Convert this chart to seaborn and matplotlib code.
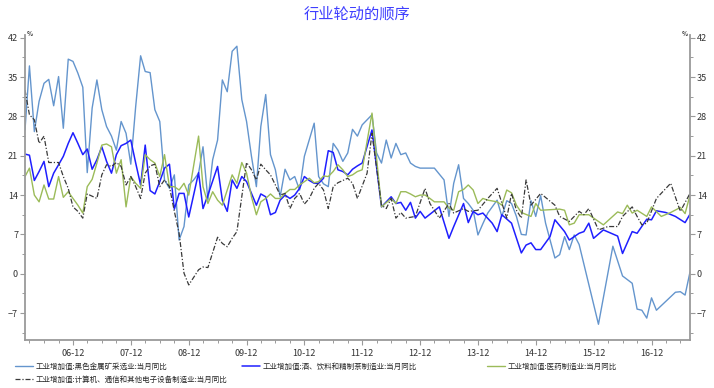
import numpy as np
import pandas as pd
import matplotlib
matplotlib.use("Agg")
import matplotlib.pyplot as plt
import matplotlib.dates as mdates
from matplotlib.ticker import MultipleLocator
import seaborn as sns

nan = np.nan

# monthly axis, Feb 2006 .. Aug 2017
months = pd.date_range("2006-02-01", periods=139, freq="MS")

# 工业增加值:黑色金属矿采选业:当月同比
ore = [25.6, 37.0, 25.3, 30.7, 33.9, 34.6, 29.9, 35.1, 25.9, 38.2,
       37.8, 35.7, 33.2, 18.0, 29.5, 34.5, 29.2, 26.2, 24.5, 22.0,
       27.1, 25.0, 19.5, 29.8, 38.8, 36.0, 35.8, 29.2, 27.1, 16.7,
       15.2, 17.6, 6.0, 8.4, 15.8, 16.7, 17.9, 22.6, 13.1, 20.3,
       23.8, 34.5, 32.4, 39.6, 40.5, 31.0, 27.1, 20.9, 15.5, 26.2,
       31.9, 21.2, 18.5, 13.7, 18.6, 16.7, 17.3, 14.9, 20.9, nan,
       26.8, 17.3, 16.0, 15.5, 23.2, 22.0, 20.0, 21.5, 25.7, 24.5,
       26.5, nan, 28.3, 21.5, 19.7, 23.8, 20.6, 23.2, 21.2, 21.5,
       19.7, 19.1, 18.8, nan, nan, 18.8, nan, 16.7, 10.2, 16.1,
       19.4, 13.4, 12.5, 11.3, 6.9, 8.9, 10.8, nan, 13.1, 10.2,
       13.0, 12.5, 10.2, 7.0, 6.9, 13.0, 10.2, 13.9, 9.0, nan,
       2.8, 3.4, 6.6, 4.3, 6.9, 5.2, nan, nan, nan, -9.0,
       nan, nan, 4.9, nan, -0.4, nan, -1.7, -6.3, -6.5, -7.9,
       -4.3, -6.5, nan, nan, nan, -3.3, -3.2, -3.8, 0.3]

# 工业增加值:酒、饮料和精制茶制造业:当月同比
beverage = [21.3, 21.1, 16.6, 18.2, 20.0, 15.5, 17.9, 19.4, 20.9, 23.2,
            25.1, 23.2, 21.2, 22.2, 18.6, 20.3, 22.6, 20.0, 17.9, 21.2,
            22.8, 23.2, 23.8, 19.7, 15.8, 22.9, 14.8, 14.2, 16.4, 18.8,
            19.5, 11.5, 14.3, 14.3, 10.1, nan, 18.0, 11.6, 14.0, nan,
            19.1, 13.1, 11.1, 16.7, 15.2, 17.3, 16.4, 14.3, 12.2, 14.2,
            13.7, 10.5, 10.9, 13.1, 14.0, 13.4, 14.0, 15.2, 17.3, 16.6,
            16.1, 16.1, 17.0, 21.9, 21.6, 18.5, 18.2, 17.6, 18.6, 19.2,
            19.7, nan, 25.6, nan, 11.9, nan, 13.7, 12.5, 12.7, 11.3,
            12.7, 9.9, 11.1, 9.9, nan, nan, 11.9, nan, 6.3, 8.4,
            nan, 12.5, 9.1, 11.1, 10.5, 10.8, nan, 9.0, 7.5, 10.5,
            nan, 9.0, nan, 3.7, 5.1, 5.5, 4.3, 4.3, nan, 6.6,
            9.6, nan, 7.5, 6.0, nan, 7.2, 7.5, 9.0, 6.3, nan,
            7.8, nan, nan, 6.7, 3.6, nan, 7.5, 7.2, nan, 9.7,
            9.6, 11.2, nan, 10.9, nan, 10.2, nan, 9.1, 10.6]

# 工业增加值:医药制造业:当月同比
pharma = [17.3, 18.8, 14.0, 12.8, 15.8, 13.3, 13.3, 17.3, 13.6, 14.6,
          13.4, 12.2, 10.8, 15.5, 16.8, 19.7, 22.9, 23.1, 22.6, 17.9,
          20.3, 11.9, 17.3, 16.1, 15.2, 21.2, 20.3, 19.7, 17.3, 21.2,
          15.5, 15.5, 14.9, 16.1, 14.0, nan, 24.5, 15.5, 12.5, 14.6,
          13.1, 12.2, 14.9, 17.6, 16.1, 19.8, 17.9, 13.7, 10.5, 12.8,
          13.4, 14.2, 13.4, 13.4, 14.3, 15.0, 15.0, 15.8, nan, 17.0,
          16.2, 16.4, 17.4, 17.3, 18.2, 19.4, 18.5, 17.3, 17.6, 18.2,
          18.5, nan, 28.6, nan, 11.9, nan, 13.4, 12.5, 14.6, 14.6,
          14.2, 13.7, 14.0, 14.0, 13.4, 12.8, nan, 12.8, 11.7, 11.3,
          14.6, 15.0, 15.8, 14.9, 12.5, 13.4, 13.1, nan, 12.8, 12.2,
          14.9, 14.4, 12.2, 10.9, nan, 10.2, 12.5, 11.3, nan, nan,
          nan, 11.5, 11.3, 8.7, 9.0, 10.5, nan, 10.5, nan, nan,
          8.7, nan, nan, 11.0, 10.7, 12.2, 10.8, 11.3, nan, 10.2,
          11.9, nan, 10.2, nan, 10.9, nan, 11.8, 10.7, 14.0]

# 工业增加值:计算机、通信和其他电子设备制造业:当月同比
electronics = [32.7, 28.3, 27.4, 23.2, 24.5, 19.8, 19.8, 19.8, 17.3, 15.2,
               11.9, 11.1, 9.9, 14.2, 13.8, 13.4, 17.6, 19.4, 19.1, 19.8,
               19.1, 15.8, 17.3, 15.5, 13.4, 17.9, 19.2, 19.5, 15.5, 16.7,
               15.5, 11.1, 7.2, 0.1, -2.0, nan, 0.7, 1.2, 1.1, nan,
               6.5, 5.4, 4.8, 6.3, 7.5, nan, 19.8, 18.5, 16.7, 19.5,
               18.5, 17.6, 15.8, 14.0, 14.3, 11.6, 13.4, 14.3, 12.4, 13.4,
               15.2, 16.1, 14.9, 11.6, 15.5, 16.2, nan, 17.0, 16.1, 13.4,
               nan, 17.9, 25.0, nan, 12.2, 11.6, 13.4, 9.9, 10.9, 9.9,
               nan, 10.2, nan, 15.2, 12.5, nan, 9.9, nan, 12.5, 10.8,
               nan, 11.6, 11.1, nan, 11.3, nan, 13.4, nan, 15.2, nan,
               9.9, 14.3, 11.3, 9.9, 16.7, 12.2, nan, 14.3, nan, nan,
               12.2, 10.2, nan, 9.3, nan, 11.1, 10.5, 11.6, nan, 7.8,
               nan, 8.4, nan, 8.4, 10.2, nan, 11.9, 10.2, 8.7, 9.0,
               nan, 13.4, nan, nan, 16.1, nan, 11.1, nan, 14.3]

labels = ["工业增加值:黑色金属矿采选业:当月同比",
          "工业增加值:酒、饮料和精制茶制造业:当月同比",
          "工业增加值:医药制造业:当月同比",
          "工业增加值:计算机、通信和其他电子设备制造业:当月同比"]
colors = ["#6495CD", "#1F1FFF", "#9BBB59", "#3A3A3A"]
styles = ["-", "-", "-", (0, (4, 1.5, 1, 1.5))]
widths = [1.0, 1.1, 1.0, 0.9]

df = pd.DataFrame({"date": months, "ore": ore, "beverage": beverage,
                   "pharma": pharma, "electronics": electronics})

sns.set_style("ticks")
plt.rcParams["font.family"] = ["Noto Sans CJK SC", "DejaVu Sans"]

fig = plt.figure(figsize=(7.14, 3.88), dpi=100)
ax = fig.add_axes([25 / 714, 48 / 388, 665 / 714, 305 / 388])

cols = ["ore", "beverage", "pharma", "electronics"]
for col, lab, c, ls, lw in zip(cols, labels, colors, styles, widths):
    part = df[["date", col]].dropna()
    sns.lineplot(data=part, x="date", y=col, ax=ax, color=c,
                 linestyle=ls, linewidth=lw, label=lab)
if ax.get_legend() is not None:
    ax.get_legend().remove()

ax.set_xlim(months[0], months[-1])
ax.set_ylim(-11.8, 42.5)
ax.set_xlabel("")
ax.set_ylabel("")

ax.yaxis.set_major_locator(MultipleLocator(7))
ax.yaxis.set_minor_locator(MultipleLocator(3.5))
ax.set_yticks([-7, 0, 7, 14, 21, 28, 35, 42])
ax.xaxis.set_major_locator(mdates.MonthLocator(bymonth=12))
ax.xaxis.set_minor_locator(mdates.MonthLocator(bymonth=[3, 6, 9, 12]))
ax.xaxis.set_major_formatter(mdates.DateFormatter("%y-%m"))

spine_col = "#9a9a9a"
ax.spines["top"].set_visible(False)
for side in ["left", "right", "bottom"]:
    ax.spines[side].set_visible(True)
    ax.spines[side].set_color(spine_col)
    ax.spines[side].set_linewidth(1.3)

ax.tick_params(axis="y", which="both", left=True, right=True,
               labelleft=True, labelright=True, color=spine_col)
ax.tick_params(axis="both", which="major", length=3.5, width=0.8,
               labelsize=6.5, pad=1.5, labelcolor="#333333", color=spine_col)
ax.tick_params(axis="both", which="minor", length=2, width=0.7,
               color=spine_col)
ax.tick_params(axis="x", which="major", pad=3)

# percent signs at top of both axes
fig.text(27 / 714, 1 - 33 / 388, "%", fontsize=4.5, fontweight="bold",
         ha="left", va="center", color="#333333")
fig.text(688 / 714, 1 - 33 / 388, "%", fontsize=4.5, fontweight="bold",
         ha="right", va="center", color="#333333")

fig.text(0.5, 1 - 14 / 388, "行业轮动的顺序", fontsize=11, color="#3f3fff",
         ha="center", va="center")

# legend entries placed individually, as in the source layout
handles = ax.get_lines()[:4]
spots = [(15, 367), (242, 367), (487, 367), (15, 380)]
for h, lab, (px, py) in zip(handles, labels, spots):
    fig.legend([h], [lab], loc="center left",
               bbox_to_anchor=(px / 714, 1 - py / 388), frameon=False,
               fontsize=5.4, handlelength=2.4, handletextpad=0.3,
               borderpad=0, borderaxespad=0)

fig.savefig("out.png", dpi=100)
